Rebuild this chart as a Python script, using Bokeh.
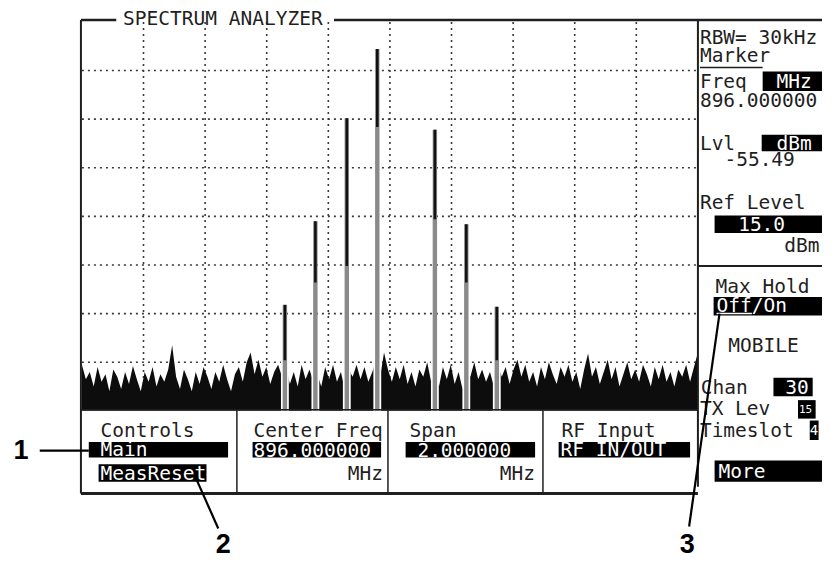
from bokeh.plotting import figure
from bokeh.models import Range1d
from bokeh.core.properties import value
from bokeh.embed import file_html
from bokeh.resources import INLINE

# ---------------- data ----------------
center_mhz = 896.0
span_mhz = 2.0
ref_level_dbm = 15.0
db_per_div = 10.0
n_vdiv = 8
n_hdiv = 10

peak_freq_mhz = [895.659, 895.758, 895.860, 895.959, 896.146, 896.248, 896.347]
peak_dbm = [-43.2, -26.0, -4.8, 9.4, -7.2, -26.6, -43.6]
peak_dark_to_dbm = [-54.6, -38.6, -35.2, -6.6, -25.6, -38.6, -54.6]

noise_dbm = [
    -55.5, -58.5, -57.0, -60.0, -56.0, -59.0, -57.5, -61.0, -56.5, -58.0,
    -60.5, -57.0, -59.5, -55.8, -58.5, -61.0, -57.0, -59.0, -56.0, -60.0,
    -57.5, -59.0, -56.5, -51.5, -58.0, -60.5, -56.5, -58.5, -61.0, -57.0,
    -59.5, -56.0, -58.0, -60.5, -57.0, -59.0, -55.5, -58.5, -61.0, -57.5,
    -56.0, -59.0, -55.0, -53.0, -57.5, -54.5, -58.0, -56.0, -59.5, -57.0,
    -55.5, -58.0, -56.0, -59.5, -57.0, -60.0, -55.5, -58.5, -56.5, -59.0,
    -57.5, -60.0, -56.0, -58.5, -55.5, -59.0, -57.0, -60.5, -56.5, -58.0,
    -55.5, -58.5, -56.0, -59.0, -57.0, -54.5, -58.0, -53.0, -56.5, -59.0,
    -56.0, -58.5, -55.5, -59.5, -57.0, -60.0, -56.5, -58.0, -55.0, -59.0,
    -57.5, -60.0, -56.0, -58.5, -55.5, -59.5, -57.0, -60.5, -56.0, -58.0,
    -55.0, -58.5, -56.5, -59.0, -57.0, -60.0, -55.5, -58.0, -56.0, -59.5,
    -56.5, -54.5, -58.0, -55.5, -59.0, -57.0, -60.0, -56.0, -58.5, -55.0,
    -57.5, -59.5, -56.0, -58.0, -55.5, -59.0, -57.0, -60.5, -56.5, -53.2,
    -58.0, -56.0, -59.5, -57.0, -54.5, -58.5, -56.0, -60.0, -57.5, -55.0,
    -58.5, -56.5, -59.0, -55.5, -57.5, -60.0, -56.0, -58.5, -55.5, -59.0,
    -57.0, -60.0, -56.5, -58.0, -55.5, -59.0, -56.0, -53.0,
]

# ---------------- layout ----------------
W, H = 822, 562
X0, X1, Y0, Y1 = 0, 838, 0, 578           # reference picture coords on the canvas
GX0, GX1, GY0, GY1 = 83, 711, 22, 422     # trace graticule

f_lo = center_mhz - span_mhz / 2
f_hi = center_mhz + span_mhz / 2
db_top = ref_level_dbm
db_bot = ref_level_dbm - n_vdiv * db_per_div
mhz_px = span_mhz / (GX1 - GX0)
db_px = (db_top - db_bot) / (GY1 - GY0)

p = figure(width=W, height=H, x_range=Range1d(X0, X1), y_range=Range1d(Y1, Y0),
           output_backend="svg", toolbar_location=None, min_border=0,
           x_axis_type=None, y_axis_type=None)
p.grid.visible = False
p.outline_line_color = None
p.background_fill_color = "white"
p.border_fill_color = "white"

p.extra_x_ranges = {"f": Range1d(f_lo - (GX0 - X0) * mhz_px, f_hi + (X1 - GX1) * mhz_px)}
p.extra_y_ranges = {"db": Range1d(db_bot - (Y1 - GY1) * db_px, db_top + (GY0 - Y0) * db_px)}
R = dict(x_range_name="f", y_range_name="db")

# graticule
vx = [f_lo + k * span_mhz / n_hdiv for k in range(1, n_hdiv)]
p.segment(x0=vx, x1=vx, y0=[db_top] * len(vx), y1=[db_bot] * len(vx),
          line_color="#3a3a3a", line_width=1.6, line_dash="2 4", **R)
hy = [db_top - k * db_per_div for k in range(1, n_vdiv)]
p.segment(x0=[f_lo] * len(hy), x1=[f_hi] * len(hy), y0=hy, y1=hy,
          line_color="#3a3a3a", line_width=1.6, line_dash="2 4", **R)

# noise floor
nf = [f_lo + i * span_mhz / (len(noise_dbm) - 1) for i in range(len(noise_dbm))]
p.varea(x=nf, y1=[db_bot] * len(nf), y2=noise_dbm, fill_color="#0d0d0d", **R)

# carriers
p.vbar(x=peak_freq_mhz, width=8 * mhz_px, bottom=db_bot, top=max(noise_dbm),
       fill_color="white", line_color=None, **R)
p.vbar(x=peak_freq_mhz, width=4.5 * mhz_px, bottom=db_bot, top=peak_dbm,
       fill_color="#8a8a8a", line_color=None, **R)
p.vbar(x=peak_freq_mhz, width=2.6 * mhz_px, bottom=peak_dark_to_dbm, top=peak_dbm,
       fill_color="#111111", line_color=None, **R)

# ---------------- screen frame ----------------
INK = "#1f1f1f"
p.segment(x0=[82, 340], x1=[118, 838], y0=[20, 20], y1=[20, 20], line_color=INK, line_width=2.5)
p.segment(x0=[82, 711], x1=[82, 711], y0=[20, 20], y1=[507, 500], line_color=INK, line_width=2)
p.segment(x0=[711], x1=[838], y0=[273], y1=[273], line_color=INK, line_width=2)
p.segment(x0=[713], x1=[777], y0=[69], y1=[69], line_color=INK, line_width=1.5)
p.segment(x0=[82], x1=[711], y0=[421], y1=[421], line_color=INK, line_width=1.5)
p.segment(x0=[82], x1=[711], y0=[507], y1=[507], line_color=INK, line_width=3)
p.segment(x0=[241, 395, 553], x1=[241, 395, 553], y0=[421] * 3, y1=[507] * 3,
          line_color=INK, line_width=1.5)

# inverse-video boxes
bx_l = [777, 776, 728, 727, 788, 813, 825, 728, 90, 100, 257, 413, 569]
bx_r = [838, 838, 838, 838, 828, 831, 834, 838, 232, 210, 388, 545, 703]
bx_t = [73, 138, 221, 305, 388, 411, 432, 473, 454, 477, 454, 454, 454]
bx_b = [93, 155, 239, 324, 407, 430, 452, 495, 470, 495, 470, 470, 470]
p.quad(left=bx_l, right=bx_r, top=bx_t, bottom=bx_b, fill_color="black", line_color=None)

MONO = value("DejaVu Sans Mono")


def txt(x, y, s, color=INK, size="19.5px", align="left"):
    p.text(x=[x], y=[y], text=[s], text_font=MONO, text_font_size=size,
           text_color=color, text_align=align, text_baseline="middle")


txt(125, 18, "SPECTRUM ANALYZER")
txt(713, 38, "RBW= 30kHz")
txt(713, 57, "Marker")
txt(713, 83, "Freq")
txt(791, 83, "MHz", "white")
txt(713, 102, "896.000000")
txt(713, 147, "Lvl")
txt(791, 147, "dBm", "white")
txt(738, 163, "-55.49")
txt(713, 208, "Ref Level")
txt(752, 230, "15.0", "white")
txt(835, 252, "dBm", align="right")
txt(729, 294, "Max Hold")
txt(730, 314, "Off/On", "white")
p.segment(x0=[730], x1=[766], y0=[322], y1=[322], line_color="white", line_width=1.5)
txt(742, 355, "MOBILE")
txt(714, 398, "Chan")
txt(800, 398, "30", "white")
txt(713, 420, "TX Lev")
txt(814, 420, "15", "white", size="11px")
txt(713, 442, "Timeslot")
txt(825, 442, "4", "white", size="14px")
txt(732, 484, "More", "white")

txt(102, 442, "Controls")
txt(102, 462, "Main", "white")
txt(102, 486, "MeasReset", "white")
txt(258, 442, "Center Freq")
txt(258, 462, "896.000000", "white")
txt(390, 486, "MHz", align="right")
txt(417, 442, "Span")
txt(425, 462, "2.000000", "white")
txt(545, 486, "MHz", align="right")
txt(572, 442, "RF Input")
txt(571, 462, "RF IN/OUT", "white")

# callouts
p.segment(x0=[40, 222, 702], x1=[90, 200, 733], y0=[463, 543, 541], y1=[463, 493, 322],
          line_color="black", line_width=2.2)
SANS = value("Liberation Sans")
for cx, cy, s in [(21, 462, "1"), (227, 558, "2"), (700, 558, "3")]:
    p.text(x=[cx], y=[cy], text=[s], text_font=SANS, text_font_size="27px",
           text_font_style="bold", text_color="black", text_align="center",
           text_baseline="middle")

open("out.html", "w").write(file_html(p, INLINE))
